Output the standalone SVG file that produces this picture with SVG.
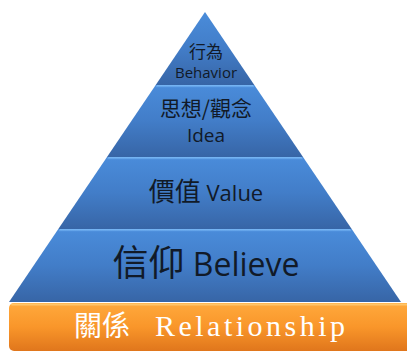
<svg xmlns="http://www.w3.org/2000/svg" width="407" height="352" viewBox="0 0 407 352">
<defs>
<linearGradient id="blue" x1="0" y1="0" x2="0" y2="1">
<stop offset="0" stop-color="#4a8cda"/>
<stop offset="0.5" stop-color="#427dc8"/>
<stop offset="1" stop-color="#3765a6"/>
</linearGradient>
<linearGradient id="hl" x1="0" y1="0" x2="0" y2="1">
<stop offset="0" stop-color="#7cbaf6"/>
<stop offset="1" stop-color="#5a9ae4"/>
</linearGradient>
<linearGradient id="orange" x1="0" y1="0" x2="0" y2="1">
<stop offset="0" stop-color="#ffa93c"/>
<stop offset="0.5" stop-color="#f9962a"/>
<stop offset="1" stop-color="#e0761c"/>
</linearGradient>
<style>
.band{fill:url(#blue)}
.hl{fill:url(#hl)}
.cjk{font-family:"Noto Sans CJK TC","Noto Sans CJK SC",sans-serif}
.lat{font-family:"Open Sans","Liberation Sans",sans-serif}
.dark{fill:#111a28}
</style>
</defs>
<rect width="407" height="352" fill="#ffffff"/>
<g id="behavior">
<polygon class="band" points="205,12 254.3,85 155.7,85"/>
<text class="cjk dark" x="206" y="58" font-size="17" text-anchor="middle">行為</text>
<text class="lat dark" x="206" y="78" font-size="15" text-anchor="middle">Behavior</text>
</g>
<g id="idea">
<polygon class="band" points="155.7,85 254.3,85 303,157 107,157"/>
<polygon class="hl" points="157,85 253,85 254.4,87.2 155.6,87.2"/>
<text class="cjk dark" x="206" y="116" font-size="21" text-anchor="middle">思想/觀念</text>
<text class="lat dark" x="206" y="142" font-size="19" text-anchor="middle">Idea</text>
</g>
<g id="value">
<polygon class="band" points="107,157 303,157 351.7,229 58.3,229"/>
<polygon class="hl" points="108.5,157 301.5,157 303,159.2 107,159.2"/>
<text class="dark" x="206" y="201" text-anchor="middle"><tspan class="cjk" font-size="26">價值</tspan><tspan class="lat" font-size="22"> Value</tspan></text>
</g>
<g id="believe">
<polygon class="band" points="58.3,229 351.7,229 401,302 9,302"/>
<polygon class="hl" points="60,229 350,229 351.5,231.2 58.5,231.2"/>
<text class="dark" x="206" y="276" text-anchor="middle"><tspan class="cjk" font-size="36">信仰</tspan><tspan class="lat" font-size="32"> Believe</tspan></text>
</g>
<g id="relationship">
<rect x="9" y="303" width="404" height="48" rx="5" fill="url(#orange)"/>
<rect x="11" y="303.5" width="400" height="2" rx="1" fill="#ffc66a"/>
<text x="74" y="336" fill="#ffffff"><tspan class="cjk" font-size="28">關係</tspan><tspan x="155" font-family="'Liberation Serif',serif" font-size="30" textLength="190" lengthAdjust="spacing">Relationship</tspan></text>
</g>
</svg>
